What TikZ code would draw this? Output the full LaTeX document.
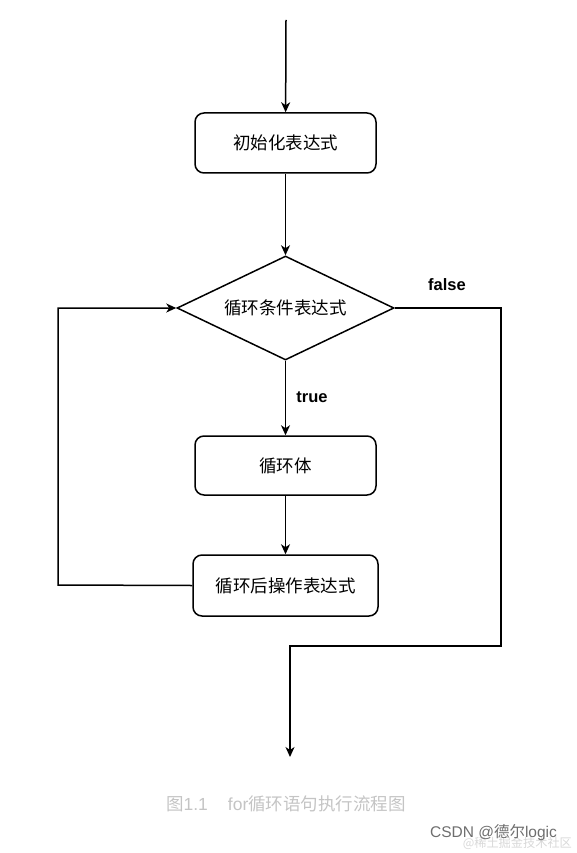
\documentclass[tikz,border=0pt]{standalone}
\usepackage{fontspec}
\setmainfont{Liberation Sans}
\newfontfamily\cjk{Noto Sans CJK SC}
\usetikzlibrary{shapes.geometric, arrows.meta}

\definecolor{captiongray}{HTML}{C4C4C4}
\definecolor{markgray}{HTML}{6E6E6E}
\definecolor{faintgray}{HTML}{D8D8D8}

\begin{document}
\begin{tikzpicture}[x=1pt, y=-1pt, line width=1.5pt,
  >={Stealth[length=10pt, width=9pt, inset=3pt]}]
  \useasboundingbox (0,0) rectangle (576,853);

  % --- Styles ---
  \tikzset{
    proc box/.style={draw, rounded corners=9pt, minimum width=181pt, minimum height=60pt,
      font=\cjk\fontsize{17.5}{20}\selectfont},
    cond box/.style={draw, diamond, aspect=2.1, inner sep=0pt, minimum width=217pt,
      minimum height=104pt, font=\cjk\fontsize{17.5}{20}\selectfont},
    flow/.style={->},
    branch label/.style={font=\bfseries\fontsize{16.5}{19}\selectfont}
  }

  % --- Free ends and corners ---
  \coordinate (start) at (286, 20);
  \coordinate (loopL) at (58, 585);
  \coordinate (loopT) at (58, 308);
  \coordinate (falseR) at (501, 308);
  \coordinate (falseB) at (501, 646);
  \coordinate (exitT) at (290, 646);
  \coordinate (exit) at (290, 757);

  % --- Nodes ---
  \node[proc box] (init) at (285.5, 143) {初始化表达式};
  \node[cond box] (cond) at (285.5, 308) {循环条件表达式};
  \node[proc box, minimum height=59pt] (body) at (285.5, 465.5) {循环体};
  \node[proc box, minimum width=185pt, minimum height=61pt] (post) at (285.5, 585.5) {循环后操作表达式};

  % --- Connectors ---
  \draw[flow] (start) -- (init);
  \draw[flow] (init) -- (cond);
  \draw[flow] (cond) -- (body);
  \draw[flow] (body) -- (post);
  \draw[flow] (post.west) -- (loopL) -- (loopT) -- (cond.west);
  \draw[flow] (cond.east) -- (falseR) -- (falseB) -- (exitT) -- (exit);

  % --- Labels ---
  \node[branch label] (truelbl) at (312, 397) {true};
  \node[branch label] (falselbl) at (447, 285) {false};

  % --- Caption and marks ---
  \node[text=captiongray, font=\fontsize{17.5}{20}\selectfont] (caption) at (286, 804)
    {{\cjk 图}1.1\hspace{20pt}for{\cjk 循环语句执行流程图}};
  \node[text=faintgray, font=\cjk\fontsize{12.2}{14}\selectfont, anchor=east] (mark2) at (576, 843)
    {@稀土掘金技术社区};
  \node[text=markgray, font=\fontsize{15.5}{18}\selectfont, anchor=east] (mark) at (561, 833)
    {CSDN @{\cjk 德尔}logic};
\end{tikzpicture}
\end{document}
